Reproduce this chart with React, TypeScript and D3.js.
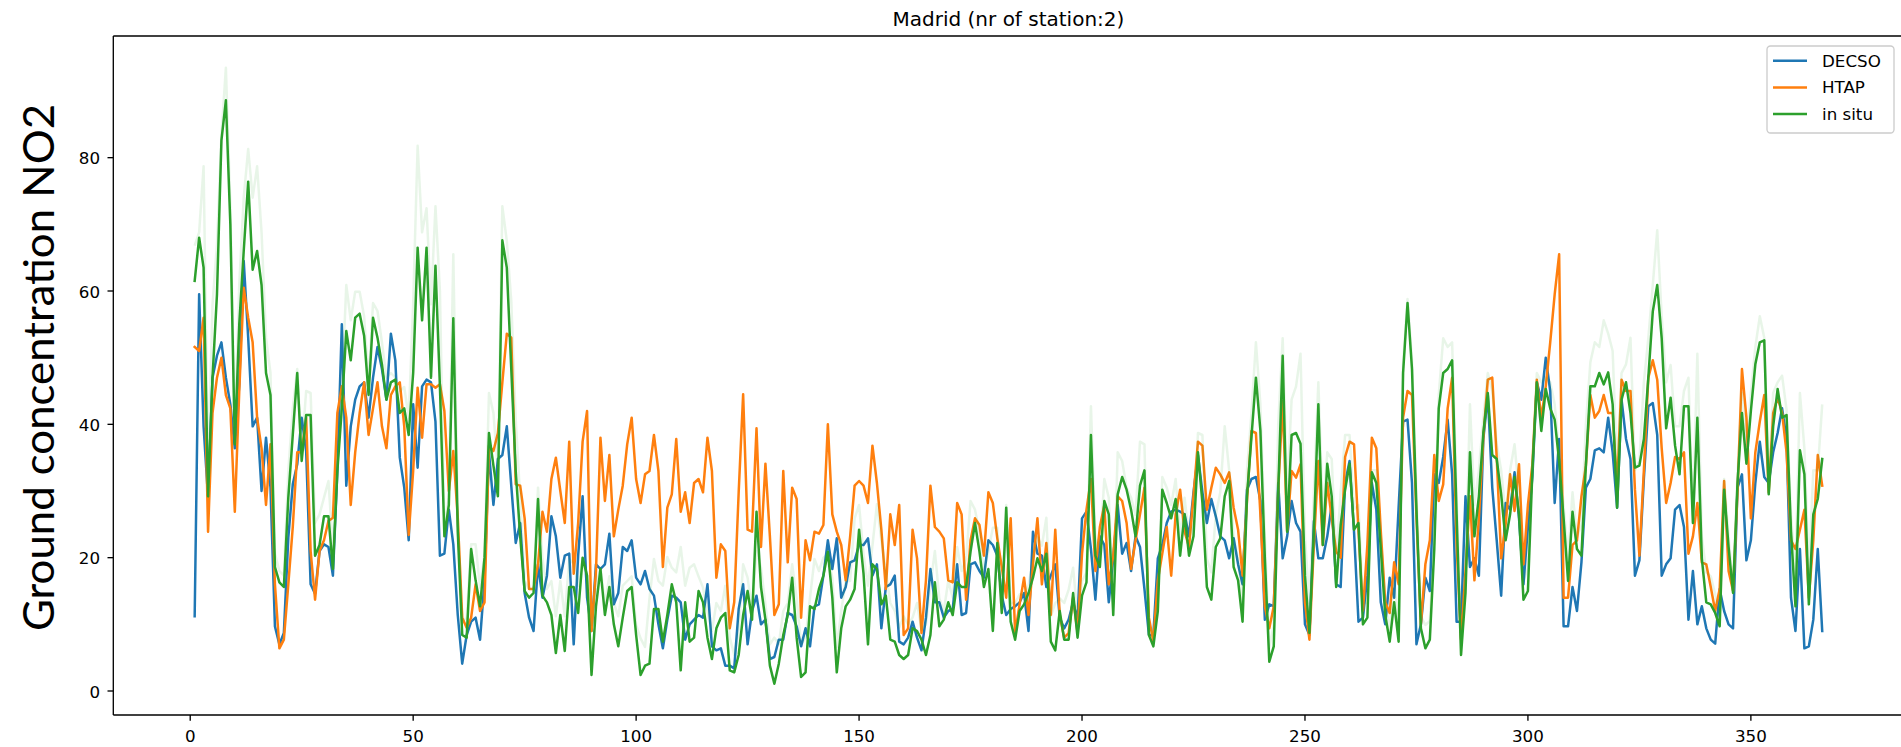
import React, { useEffect } from "react";
import * as d3 from "d3";

// ---- data (day index 1..366) ----
const decso: number[] = [
  11.2, 59.5, 39.7, 29, 47, 50.3, 52.3, 47, 43, 36.4,
  46, 64.5, 53, 39.7, 41, 30, 38, 30.5, 9.7, 7,
  8.7, 23, 31, 34, 41, 36, 16, 14.6, 21, 22,
  21.6, 17.3, 33, 55, 30.8, 39.7, 43.7, 45.7, 46.3, 41,
  47, 51.6, 48.3, 43.7, 53.6, 49.6, 35, 30.5, 22.6, 43,
  33.5, 45.7, 46.7, 46.3, 40.4, 20.3, 20.6, 27.2, 22, 11.4,
  4.1, 8.4, 10.4, 11, 7.7, 16.6, 35.8, 27.9, 34.8, 35.4,
  39.7, 30.8, 22.2, 25.2, 14.7, 11, 9, 19, 14, 17.3,
  26.2, 23.2, 17, 20.3, 20.6, 7, 20.3, 29.2, 14, 9,
  19, 18.3, 19, 23.6, 13, 14.7, 21.6, 21, 22.6, 17,
  16, 18, 15.3, 14.3, 10, 6.4, 10.7, 14.3, 14, 13.3,
  7.7, 10, 10.7, 11.4, 11, 16, 6.7, 6.1, 6.4, 3.8,
  3.8, 3.4, 12.3, 16, 7, 12, 14.3, 10, 10.7, 4.8,
  5.1, 7.7, 7.7, 11.7, 11.4, 9.7, 6.7, 9.4, 6.7, 12.7,
  13, 17.3, 22.6, 18.3, 22.9, 14, 15.6, 19.3, 19.6, 21.9,
  21.9, 22.9, 17.3, 19, 9.4, 15.6, 16, 17.3, 7.4, 7,
  8, 10.4, 8, 6.1, 11, 18.3, 13.3, 13.3, 11, 12,
  12.3, 19, 11.4, 11.7, 19, 19.3, 18, 17, 22.6, 21.9,
  20.3, 14.3, 11.4, 12.3, 12.7, 13.3, 14.7, 9, 23.9, 20.6,
  20.3, 15.6, 17.3, 19, 11, 9.4, 10.7, 13.3, 10.7, 25.9,
  26.9, 21.3, 13.7, 23.2, 21.9, 13.3, 19.9, 27.9, 20.6, 22.2,
  18, 23.2, 21.6, 15.3, 8.4, 8.4, 19.9, 21.9, 25.2, 26.9,
  27.2, 26.9, 26.5, 23.2, 29.8, 35.4, 29.8, 25.2, 28.8, 26.2,
  23.2, 22.6, 19.9, 22.9, 19, 16, 30.2, 31.8, 32.1, 28.5,
  10.7, 13, 12.7, 31.2, 19.9, 23.2, 28.5, 25.2, 23.9, 10,
  8.4, 25.5, 19.9, 19.9, 23.2, 27.9, 16, 15.6, 31.2, 34.5,
  23.9, 10.4, 11, 17.3, 31.2, 27.2, 13.3, 10, 17, 14,
  27.5, 40.4, 40.7, 31.2, 7, 10, 17, 15, 32.5, 31.2,
  35.1, 40.7, 32.5, 10.4, 10.4, 29.2, 18.6, 19.9, 17.3, 37.8,
  44.4, 30.5, 22.6, 14.3, 28.2, 27.2, 32.8, 25.9, 16, 24.6,
  32.1, 46.3, 43.7, 50, 45, 28.2, 37.8, 9.7, 9.7, 15.6,
  12, 19.3, 30.5, 31.8, 36.1, 36.4, 35.8, 41, 35.8, 27.5,
  43.7, 37.8, 34.8, 17.3, 19.6, 31.8, 42.7, 43.2, 38.4, 17.3,
  19, 19.9, 27.2, 27.9, 24.6, 10.7, 18, 10, 12.7, 9.4,
  7.7, 7.1, 15.3, 12, 10, 9.4, 30.5, 32.5, 19.6, 22.6,
  31.2, 37.4, 32.1, 31.2, 35.8, 38.7, 42.4, 37.8, 14, 9,
  21.3, 6.4, 6.7, 10.7, 21.3, 9,
];

const htap: number[] = [
  51.6, 51, 56, 23.9, 41.7, 47, 50, 44.4, 42.4, 26.9,
  45, 60.5, 56, 52.3, 41, 36.4, 27.9, 37, 16, 6.4,
  7.7, 16, 24.6, 35.8, 35.8, 41, 21, 13.7, 21, 22.6,
  25.5, 26, 41.7, 45.7, 41, 27.9, 35.8, 41.7, 46.3, 38.4,
  42.4, 46.3, 39.7, 36.4, 44.4, 45.7, 46.3, 39.7, 23.4, 33,
  45.5, 38, 46, 46, 45.5, 46, 42, 30, 36, 26,
  11, 9.5, 11, 16, 12, 13.3, 36.8, 36, 38.7, 46.3,
  53.6, 53, 31, 30.8, 25.9, 15.3, 15.3, 19, 26.9, 23.9,
  31.8, 35, 30, 25.2, 37.4, 17.6, 25.2, 37.4, 42, 9,
  18, 38, 28.5, 35.4, 23.2, 27.2, 30.8, 37, 41, 31.8,
  28.2, 32.5, 33, 38.4, 33, 18.6, 27.5, 29.5, 37.8, 26.9,
  29.8, 25.2, 31.2, 31.8, 29.8, 38, 33, 17, 22, 21,
  9.4, 13.3, 29.8, 44.5, 24.2, 23.9, 39.4, 21.6, 34.1, 23.2,
  11.4, 13, 33, 19.3, 30.5, 28.8, 11, 22.6, 19.6, 23.9,
  23.6, 24.9, 40, 26.5, 23.9, 21.9, 16.6, 23.2, 30.8, 31.5,
  30.8, 28.2, 36.8, 31.2, 24.2, 15.3, 26.5, 21.9, 27.9, 8.4,
  9.4, 24.2, 19.9, 8.7, 16.6, 30.8, 24.6, 23.9, 22.9, 16.6,
  16.3, 28.2, 26.5, 13.7, 22.6, 25.9, 24.9, 20.3, 29.8, 28.2,
  22.9, 18.6, 14, 25.9, 8.7, 13, 17, 11.4, 19, 25.9,
  16, 22.2, 11.4, 24.2, 11.4, 8, 8.7, 14, 8.7, 20.6,
  27.2, 31.8, 18, 24.6, 27.9, 16, 20.3, 29.2, 28.5, 25.2,
  18.3, 22.6, 26.5, 30.5, 11, 7.4, 16.6, 20.6, 24.6, 17.3,
  26.5, 30.2, 23.9, 21.6, 29.2, 37.4, 36.8, 27.2, 30.5, 33.5,
  32.5, 31.2, 32.8, 27.5, 24.2, 17.3, 28.5, 39, 38.7, 26.5,
  12.7, 9.4, 12.7, 30, 43.5, 24, 33, 32, 34, 13.3,
  7.7, 22, 34.5, 21.9, 31.2, 25.9, 20.9, 20, 35.1, 37.4,
  37, 24, 12, 22, 38, 36.4, 24, 13.3, 11.7, 19.3,
  16, 41, 45, 44.4, 26, 10, 19, 22.6, 35.4, 28.5,
  31, 42.4, 47, 22, 7.7, 18, 29.2, 16.6, 25.9, 38,
  46.7, 47, 35, 19.9, 25, 32.5, 27, 34, 19, 27.9,
  34, 46.7, 41, 45.7, 52.3, 59.5, 65.5, 14, 14, 21.9,
  22.6, 29.2, 33.8, 44.4, 41, 42, 44.4, 41.7, 41.7, 30.5,
  46.7, 45, 45, 30.2, 20.3, 33.1, 47, 49.6, 46.7, 36.4,
  28.2, 31.2, 35.1, 34.8, 35.8, 20.6, 23.2, 28.2, 19.3, 19,
  15.6, 12, 15.3, 31.5, 18, 15, 29.8, 48.3, 41, 25.9,
  35.8, 40.4, 44.4, 29.8, 41.7, 44, 41.7, 35.8, 22.6, 21.3,
  24.2, 27.2, 14, 22.6, 35.4, 30.8,
];

const inSitu: number[] = [
  61.5, 68, 63.5, 29.2, 47, 59.5, 82.6, 88.6, 70, 37,
  55, 66, 76.4, 63.2, 66, 60.9, 47.7, 44.4, 18.6, 16.3,
  15.6, 29, 38.4, 47.7, 34.5, 41.4, 41.4, 20.3, 21.9, 26.2,
  26.2, 18.3, 33, 42.4, 54, 49.6, 56, 56.6, 53.3, 44.4,
  56, 53, 49, 43.7, 46.3, 46.7, 41.7, 42.4, 38.4, 47.7,
  66.5, 55.6, 66.5, 47, 63.8, 45.7, 23.2, 27.9, 55.9, 23.9,
  8.4, 8, 21.3, 16.6, 12.7, 20, 38.7, 33.8, 29.2, 67.6,
  63.5, 48.3, 33, 23.2, 15, 14, 14.7, 28.8, 14.3, 13.3,
  11.4, 5.7, 11.4, 6, 15.6, 15.6, 11.7, 20, 17.3, 2.4,
  12.7, 18.3, 11.4, 15.6, 10, 6.7, 11, 15, 15.6, 8.4,
  2.4, 3.8, 4.1, 12.3, 12.3, 7.4, 11.4, 16, 13.3, 3.1,
  13.3, 7.4, 8, 15, 13.3, 8, 4.8, 9.4, 11, 11.7,
  3.1, 2.8, 5.4, 11.4, 15, 10.7, 26.9, 15.6, 10.7, 3.8,
  1.1, 4.1, 8.4, 11.4, 17, 8, 2.1, 2.8, 12.7, 12.3,
  15.3, 17.3, 20.9, 14, 2.8, 9.4, 12.7, 13.7, 15.3, 24.2,
  17.6, 7, 19, 18.3, 13, 14.3, 7.7, 7.4, 5.4, 4.8,
  5.4, 9.4, 9, 7.7, 5.4, 8.4, 16.3, 9.7, 10.7, 13.3,
  11.4, 16.3, 15.6, 15.6, 20.9, 25.2, 20.9, 15.6, 18.3, 9,
  22.2, 11.7, 27.5, 10.4, 7.7, 12, 13, 14.7, 17, 19.9,
  18, 20.6, 7.4, 6.1, 12, 7.7, 7.7, 14.7, 8, 14.3,
  16.3, 38.4, 20.3, 18.6, 28.5, 26.5, 11.4, 29.5, 32.1, 30.2,
  27.2, 23.2, 30.8, 33.1, 8.4, 6.7, 12, 30.2, 28.2, 25.9,
  28.8, 20.3, 26.5, 20.3, 23.2, 35.8, 28.2, 15.6, 13.7, 21.6,
  22.9, 29.2, 31.5, 18.6, 16.6, 10.4, 29.2, 38.1, 47, 39.1,
  19.9, 4.4, 6.7, 30, 50.3, 23.9, 38.4, 38.7, 37.1, 17.3,
  8.7, 23.9, 43, 21.9, 34.1, 29.2, 15.6, 24.9, 30.2, 34.1,
  24.2, 25.2, 10, 11, 32.8, 31.2, 21.3, 11.4, 7.4, 13.3,
  7.4, 47.7, 58.2, 48.3, 27.2, 9.4, 6.4, 7.7, 21.3, 42.4,
  47.7, 48.3, 49.6, 26.5, 5.4, 14.7, 35.8, 23.2, 29.2, 38.7,
  44.7, 35.4, 34.8, 29.5, 22.6, 26.5, 32.1, 26.5, 13.7, 15,
  33.1, 46.3, 39, 45.3, 42.4, 40.7, 34.5, 25.9, 16.5, 26.9,
  21.3, 20.3, 33.8, 45.7, 45.7, 47.7, 46, 47.8, 43, 27.5,
  43.7, 46.3, 41.7, 33.5, 33.8, 37.8, 47, 56.9, 60.9, 52.9,
  39.4, 44, 36.8, 32.5, 42.7, 42.7, 25.2, 41, 19.9, 13.3,
  13, 11.7, 9.7, 30.2, 21.6, 14.7, 31.2, 41.7, 34.1, 42,
  49, 52.3, 52.6, 29.5, 39.7, 45.3, 41, 41.4, 23.9, 12.7,
  36.1, 32.5, 13, 26.5, 28.8, 34.8,
];

// single station (drawn faint)
const station: number[] = [
  66.8, 68.8, 78.7, 33, 58, 67, 83.3, 93.5, 72.7, 39.7,
  61, 74, 81.3, 74, 78.7, 68.8, 53, 47.7, 20.6, 18,
  17.3, 33, 42.4, 48.3, 35.8, 45, 44.7, 25.2, 26.5, 29,
  31.5, 21.3, 34.5, 45, 60.9, 55.6, 59.9, 59.9, 56.2, 46.3,
  58.2, 57, 52.3, 47, 47.7, 47, 45, 45.6, 41, 58,
  81.8, 68.8, 72.4, 58, 72.7, 60, 24.5, 29, 65.5, 26,
  10.5, 11, 22, 22, 15.5, 20.5, 44.7, 41.7, 33, 72.7,
  67.5, 58.5, 40.7, 29, 16.5, 15.3, 15.3, 30.5, 19.8, 15.3,
  16.5, 11.2, 16.5, 11.2, 19.8, 19.1, 15.8, 19.8, 16.5, 9.9,
  15.8, 18.5, 13.2, 17.2, 13.2, 11.2, 15.8, 16.5, 17.2, 9.9,
  7.9, 6.6, 13.9, 19.8, 16.5, 15.8, 20.1, 18.5, 17.8, 21.6,
  15.8, 18.5, 19, 17.2, 15.5, 12, 9, 13.2, 12, 15.8,
  8, 5.4, 9, 19, 17, 12, 21, 18.5, 13, 7,
  8, 7, 12, 13.2, 19, 13.9, 7, 8, 14, 19.8,
  18, 20, 20.5, 17, 6.6, 12, 16.5, 16.5, 25.9, 27.9,
  20.5, 15.8, 21.8, 28, 22.6, 18, 13.2, 12, 9.5, 11.2,
  10, 11, 13.2, 9.2, 10, 15.8, 21, 13.9, 12, 16.5,
  14, 21.6, 18, 19.8, 28.5, 27.2, 23.8, 17.8, 21, 24.5,
  24.5, 13.2, 27.9, 13.2, 13.2, 14.5, 14.5, 15.8, 19.8, 23.1,
  21.8, 26, 11.2, 13.2, 13.9, 13.2, 15.2, 18.5, 11.2, 16.5,
  17.8, 42.7, 23.1, 21.1, 31.8, 29, 13.2, 35.8, 34.5, 30.5,
  29, 26.4, 37.4, 37, 9.9, 7.9, 13.2, 32.1, 30.5, 27.9,
  31.8, 23.1, 29, 23.1, 25, 38.7, 38.4, 19.8, 17.8, 26.4,
  29.8, 39.7, 33.1, 23.1, 19.8, 13.2, 33.1, 41.7, 52.3, 43,
  23.1, 6.6, 9.9, 40, 52.9, 29.8, 43.7, 45.7, 50.6, 23.1,
  13.2, 29.8, 46.3, 26.4, 35.8, 34.8, 19.8, 29.8, 38.4, 38.4,
  27.2, 27.9, 13.2, 13.2, 33.1, 33.1, 23.1, 13.2, 9.2, 16.5,
  9.9, 49, 58.8, 49.6, 29.8, 11.2, 9.9, 10.5, 23.1, 44.4,
  52.9, 51.6, 52.3, 29.8, 8, 17.8, 43, 27.9, 33.1, 41,
  47.7, 45, 37, 33.1, 26.4, 33.1, 37, 29.8, 16.5, 18.5,
  34.3, 47.7, 46.3, 47, 46.3, 43, 35.8, 27.9, 20, 29.8,
  23.1, 25, 40, 49.3, 52.3, 51.6, 55.6, 53.6, 51, 33.1,
  47.7, 49, 53, 33.1, 34.5, 46.3, 52.9, 60.9, 69.1, 56.2,
  46.3, 48.9, 39.7, 39.7, 45, 47, 26.4, 50.6, 23.1, 17.8,
  17.2, 14.5, 11.2, 31.8, 23.1, 15.8, 32.5, 44.7, 36.8, 44.7,
  51.6, 56.2, 53, 31.2, 44.7, 46.3, 47.3, 42.2, 26.4, 17.8,
  44.7, 36.4, 17.8, 33.1, 33.1, 43,
];

const xTicks = [0, 50, 100, 150, 200, 250, 300, 350];
const yTicks = [0, 20, 40, 60, 80];
const seriesNames = ["DECSO", "HTAP", "in situ"];
const title = "Madrid (nr of station:2)";
const yLabel = "Ground concentration NO2";

// ---- layout ----
const W = 1901;
const H = 747;
const L = 113.3;
const R = 1903.6;
const T = 36;
const B = 715;
const COLORS = ["#1f77b4", "#ff7f0e", "#2ca02c"];
const FONT = "DejaVu Sans, sans-serif";

export default function App() {
  useEffect(() => {
    document.body.style.margin = "0";
    document.body.style.overflow = "hidden";
  }, []);

  const x = d3.scaleLinear().domain([-17.25, 384.25]).range([L, R]);
  const y = d3.scaleLinear().domain([-3.6, 98.25]).range([B, T]);

  const line = d3
    .line<number>()
    .x((_, i) => x(i + 1))
    .y((v) => y(v));

  const series = [decso, htap, inSitu];

  return (
    <svg
      width={W}
      height={H}
      style={{ position: "absolute", left: 0, top: 0, display: "block", background: "#fff" }}
    >
      <defs>
        <clipPath id="plot">
          <rect x={L} y={T} width={R - L} height={B - T} />
        </clipPath>
      </defs>

      {/* title */}
      <text x={(L + R) / 2} y={26} textAnchor="middle" fontFamily={FONT} fontSize={20} fill="#000">
        {title}
      </text>

      {/* y label */}
      <text
        transform={`translate(54, ${(T + B) / 2 - 8}) rotate(-90)`}
        textAnchor="middle"
        fontFamily="Lato, 'Open Sans', sans-serif"
        fontSize={43}
        textLength={527}
        lengthAdjust="spacingAndGlyphs"
        fill="#000"
      >
        {yLabel}
      </text>

      <g clipPath="url(#plot)">
        {series.map((s, k) => (
          <path
            key={k}
            d={line(s) || ""}
            fill="none"
            stroke={COLORS[k]}
            strokeWidth={2.5}
            strokeLinejoin="round"
            strokeLinecap="square"
          />
        ))}
        <path
          d={line(station) || ""}
          fill="none"
          stroke={COLORS[2]}
          strokeOpacity={0.11}
          strokeWidth={2.5}
          strokeLinejoin="round"
        />
      </g>

      {/* spines */}
      <g stroke="#000" strokeWidth={1.33} fill="none">
        <line x1={L} y1={T} x2={L} y2={B} />
        <line x1={L} y1={B} x2={R} y2={B} />
        <line x1={L} y1={T} x2={R} y2={T} />
        <line x1={R} y1={T} x2={R} y2={B} />
      </g>

      {/* x ticks */}
      {xTicks.map((t) => (
        <g key={"x" + t}>
          <line x1={x(t)} x2={x(t)} y1={B} y2={B + 5.8} stroke="#000" strokeWidth={1.33} />
          <text x={x(t)} y={742} textAnchor="middle" fontFamily={FONT} fontSize={16.7} fill="#000">
            {t}
          </text>
        </g>
      ))}

      {/* y ticks */}
      {yTicks.map((t) => (
        <g key={"y" + t}>
          <line x1={L - 5.8} x2={L} y1={y(t)} y2={y(t)} stroke="#000" strokeWidth={1.33} />
          <text x={100} y={y(t) + 6.5} textAnchor="end" fontFamily={FONT} fontSize={16.7} fill="#000">
            {t}
          </text>
        </g>
      ))}

      {/* legend */}
      <g>
        <rect
          x={1767}
          y={46}
          width={127}
          height={87}
          rx={3.5}
          fill="#fff"
          fillOpacity={0.8}
          stroke="#cccccc"
          strokeWidth={1.33}
        />
        {seriesNames.map((n, i) => {
          const cy = 60.7 + i * 26.7;
          return (
            <g key={n}>
              <line x1={1773} x2={1807} y1={cy} y2={cy} stroke={COLORS[i]} strokeWidth={2.5} />
              <text x={1822} y={cy + 6} fontFamily={FONT} fontSize={16.7} fill="#000">
                {n}
              </text>
            </g>
          );
        })}
      </g>
    </svg>
  );
}
